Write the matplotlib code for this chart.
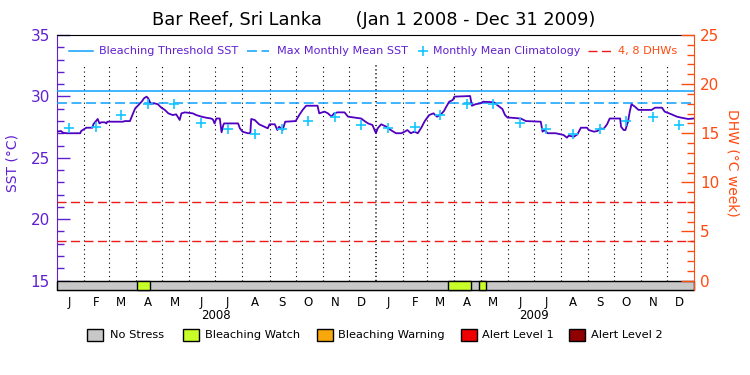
import matplotlib
matplotlib.use("Agg")
import matplotlib.pyplot as plt
import matplotlib.dates as mdates
import numpy as np
from matplotlib.patches import Rectangle
from matplotlib.transforms import blended_transform_factory

# ---------------- data ----------------
sst_dates = [
    "2008-01-01", "2008-01-06", "2008-01-08", "2008-01-12", "2008-01-28", "2008-01-29",
    "2008-02-04", "2008-02-11", "2008-02-12", "2008-02-15", "2008-02-17", "2008-02-19",
    "2008-02-21", "2008-02-25", "2008-02-27", "2008-02-28", "2008-03-17", "2008-03-19",
    "2008-03-25", "2008-03-27", "2008-03-31", "2008-04-03", "2008-04-08", "2008-04-10",
    "2008-04-13", "2008-04-15", "2008-04-18", "2008-04-22", "2008-04-26", "2008-04-30",
    "2008-05-04", "2008-05-08", "2008-05-13", "2008-05-17", "2008-05-21", "2008-05-23",
    "2008-05-27", "2008-06-05", "2008-06-09", "2008-06-15", "2008-06-20", "2008-06-26",
    "2008-06-28", "2008-06-30", "2008-07-02", "2008-07-06", "2008-07-08", "2008-07-10",
    "2008-07-11", "2008-07-27", "2008-07-29", "2008-08-01", "2008-08-07", "2008-08-10",
    "2008-08-11", "2008-08-15", "2008-08-20", "2008-08-26", "2008-08-30", "2008-09-01",
    "2008-09-07", "2008-09-10", "2008-09-12", "2008-09-16", "2008-09-19", "2008-10-01",
    "2008-10-05", "2008-10-09", "2008-10-13", "2008-10-26", "2008-10-28", "2008-11-03",
    "2008-11-07", "2008-11-11", "2008-11-14", "2008-11-18", "2008-11-26", "2008-11-30",
    "2008-12-15", "2008-12-19", "2008-12-23", "2008-12-28", "2009-01-01", "2009-01-03",
    "2009-01-07", "2009-01-13", "2009-01-18", "2009-01-24", "2009-01-30", "2009-02-03",
    "2009-02-06", "2009-02-10", "2009-02-14", "2009-02-18", "2009-02-22", "2009-02-26",
    "2009-03-03", "2009-03-08", "2009-03-12", "2009-03-16", "2009-03-20", "2009-03-22",
    "2009-03-26", "2009-03-30", "2009-04-01", "2009-04-19", "2009-04-21", "2009-04-25",
    "2009-05-01", "2009-05-04", "2009-05-16", "2009-05-20", "2009-05-26", "2009-05-29",
    "2009-06-01", "2009-06-04", "2009-06-16", "2009-06-22", "2009-07-09", "2009-07-11",
    "2009-07-13", "2009-07-17", "2009-07-26", "2009-08-01", "2009-08-04", "2009-08-08",
    "2009-08-10", "2009-08-16", "2009-08-20", "2009-08-24", "2009-08-31", "2009-09-02",
    "2009-09-08", "2009-09-12", "2009-09-15", "2009-09-19", "2009-09-23", "2009-09-26",
    "2009-10-08", "2009-10-09", "2009-10-12", "2009-10-14", "2009-10-17", "2009-10-19",
    "2009-10-21", "2009-10-25", "2009-10-29", "2009-11-13", "2009-11-17", "2009-11-25",
    "2009-11-28", "2009-12-06", "2009-12-12", "2009-12-17", "2009-12-25", "2009-12-31",
]
sst_values = [
    27.13, 27.18, 27.05, 27.00, 27.00, 27.18,
    27.45, 27.45, 27.73, 27.99, 28.16, 27.80,
    27.89, 27.89, 27.80, 27.94, 27.94, 27.99,
    27.99, 28.35, 29.03, 29.24, 29.62, 29.84,
    29.98, 29.84, 29.36, 29.44, 29.36, 29.08,
    28.90, 28.62, 28.48, 28.54, 28.08, 28.62,
    28.70, 28.62, 28.48, 28.35, 28.27, 28.20,
    28.13, 27.80, 28.20, 28.20, 27.08, 27.67,
    27.80, 27.80, 27.40, 27.13, 27.00, 27.00,
    28.16, 28.08, 27.73, 27.53, 27.40, 27.73,
    27.73, 27.26, 27.53, 27.26, 27.94, 27.99,
    28.48, 28.90, 29.24, 29.24, 28.62, 28.76,
    28.62, 28.35, 28.62, 28.70, 28.70, 28.35,
    28.20, 27.99, 27.80, 27.67, 27.00, 27.40,
    27.73, 27.53, 27.26, 27.00, 27.00, 27.13,
    27.26, 27.00, 27.13, 27.00, 27.45, 27.99,
    28.48, 28.62, 28.35, 28.50, 28.81, 29.08,
    29.57, 29.70, 29.98, 30.03, 29.24, 29.36,
    29.44, 29.57, 29.52, 29.30, 28.97, 28.48,
    28.27, 28.27, 28.20, 27.99, 27.94, 27.13,
    27.26, 27.00, 27.00, 26.91, 26.86, 26.64,
    26.80, 26.72, 26.91, 27.45, 27.45, 27.26,
    27.13, 27.18, 27.40, 27.35, 27.73, 28.20,
    28.20, 27.53, 27.26, 27.26, 27.94, 28.76,
    29.36, 29.16, 28.90, 28.90, 29.08, 29.08,
    28.76, 28.54, 28.35, 28.27, 28.16, 28.20,
]

month_letters = ["J", "F", "M", "A", "M", "J", "J", "A", "S", "O", "N", "D"]
years = ["2008", "2009"]
clim_values = [27.45, 27.47, 28.45, 29.42, 29.42, 27.86,
               27.32, 26.90, 27.35, 28.02, 28.30, 27.67]
mmm_value = 29.45
threshold_value = 30.47
dhw_levels = [4, 8]

stress_starts = ["2008-04-02", "2009-03-25", "2009-04-29"]
stress_ends = ["2008-04-17", "2009-04-20", "2009-05-07"]
stress_levels = [1, 1, 1]   # 0 no stress, 1 watch, 2 warning, 3 alert1, 4 alert2

legend_labels = ["No Stress", "Bleaching Watch", "Bleaching Warning",
                 "Alert Level 1", "Alert Level 2"]
legend_colors = ["#c8c8c8", "#c8ff28", "#f8a80c", "#ee0000", "#900000"]

# ---------------- styles ----------------
PURPLE = "#6020d0"
LINEPURPLE = "#5000c0"
ORANGE = "#ff4a10"
BLUE = "#0aa0ff"
CYAN = "#10c8ff"
RED = "#ee1a1a"

plt.rcParams["font.family"] = ["DejaVu Sans"]

W, H = 750, 375
fig = plt.figure(figsize=(7.5, 3.75), dpi=100)
ax_l, ax_r, ax_t, ax_b = 56.7, 694.3, 35.0, 290.0
ax = fig.add_axes([ax_l / W, 1 - ax_b / H, (ax_r - ax_l) / W, (ax_b - ax_t) / H])

x0 = np.datetime64("2008-01-01")
x1 = np.datetime64("2010-01-01")
y_bot = 15 - (ax_b - 280.6) / 12.28
ax.set_xlim(x0, x1)
ax.set_ylim(y_bot, 35)

xd = np.array(sst_dates, dtype="datetime64[D]")
ax.plot(xd, sst_values, color=LINEPURPLE, lw=1.3, zorder=5)

month_starts = np.arange("2008-01", "2010-01", dtype="datetime64[M]").astype("datetime64[D]")
mid_months = month_starts + np.timedelta64(14, "D")
ax.plot(mid_months, clim_values * len(years), linestyle="none", marker="+",
        color=CYAN, markersize=6.5, mew=1.2, zorder=6)

ax.axhline(threshold_value, color=BLUE, lw=1.1, zorder=4)
ax.axhline(mmm_value, color=BLUE, lw=1.1, dashes=(6.5, 3), zorder=4)

# vertical dotted month lines
for i, ms in enumerate(month_starts[1:]):
    lw = 1.1 if str(ms).endswith("01-01") else 0.8
    ax.plot([ms, ms], [15, 32.56], color="black", lw=lw,
            dashes=(1.0, 3.0) if lw < 1 else (0.8, 1.8), zorder=2)

# stress bar
xs0 = mdates.date2num(x0)
xs1 = mdates.date2num(x1)
ax.add_patch(Rectangle((xs0, y_bot), xs1 - xs0, 15 - y_bot, facecolor=legend_colors[0],
                       edgecolor="black", lw=1.0, zorder=7, clip_on=False))
for s, e, lv in zip(stress_starts, stress_ends, stress_levels):
    a = mdates.date2num(np.datetime64(s))
    b = mdates.date2num(np.datetime64(e))
    ax.add_patch(Rectangle((a, y_bot), b - a, 15 - y_bot, facecolor=legend_colors[lv],
                           edgecolor="black", lw=1.0, zorder=8, clip_on=False))

# axes styling
for side in ["top", "bottom"]:
    ax.spines[side].set_color("black")
ax.spines["left"].set_color(PURPLE)
ax.spines["right"].set_visible(False)
ax.set_yticks([15, 20, 25, 30, 35])
ax.set_yticks(np.arange(16, 35, 1), minor=True)
ax.tick_params(axis="y", which="major", direction="in", length=9.5, width=1.0,
               color=PURPLE, labelcolor=PURPLE, labelsize=11, pad=5)
ax.tick_params(axis="y", which="minor", direction="in", length=5, width=1.0, color=PURPLE)
ax.set_ylabel("SST (°C)", color=PURPLE, fontsize=10, labelpad=8)
ax.yaxis.set_label_coords(-0.058, 0.5)

ax.set_xticks(mid_months)
ax.set_xticklabels(month_letters * len(years))
ax.tick_params(axis="x", length=0, labelsize=8.5, pad=4)

trans = blended_transform_factory(ax.transData, ax.transAxes)
for j, yr in enumerate(years):
    mid = np.datetime64(f"{yr}-07-01")
    ax.text(mid, -(315.7 - ax_b) / (ax_b - ax_t), yr, transform=trans, ha="center",
            va="center", fontsize=8.5)

# right axis
ax2 = ax.twinx()
ax2.set_ylim((y_bot - 15) * 1.25, 25)
for lv in dhw_levels:
    ax2.axhline(lv, color=RED, lw=1.0, dashes=(6.5, 3.2), zorder=3)
for side in ["top", "bottom", "left"]:
    ax2.spines[side].set_visible(False)
ax2.spines["right"].set_color(ORANGE)
ax2.set_yticks([0, 5, 10, 15, 20, 25])
ax2.set_yticks(np.arange(1, 25, 1), minor=True)
ax2.tick_params(axis="y", which="major", direction="in", length=9.5, width=1.0,
                color=ORANGE, labelcolor=ORANGE, labelsize=11, pad=4)
ax2.tick_params(axis="y", which="minor", direction="in", length=5, width=1.0, color=ORANGE)
ax2.set_ylabel("DHW (°C week)", color=ORANGE, fontsize=10, rotation=270, va="center")
ax2.yaxis.set_label_coords(1.06, 0.5)

# top legend (inside axes)
def fx(px):
    return (px - ax_l) / (ax_r - ax_l)

ly = (ax_b - 51) / (ax_b - ax_t)
fs_leg = 8.1
ax.plot([fx(69), fx(93)], [ly, ly], transform=ax.transAxes, color=BLUE, lw=1.1, zorder=9)
ax.text(fx(99), ly, "Bleaching Threshold SST", transform=ax.transAxes, color=PURPLE,
        fontsize=fs_leg, va="center", ha="left")
ax.plot([fx(247), fx(269)], [ly, ly], transform=ax.transAxes, color=BLUE, lw=1.1,
        dashes=(6.5, 3), zorder=9)
ax.text(fx(277), ly, "Max Monthly Mean SST", transform=ax.transAxes, color=PURPLE,
        fontsize=fs_leg, va="center", ha="left")
ax.plot([fx(423)], [ly], transform=ax.transAxes, marker="+", color=CYAN,
        markersize=6.5, mew=1.2, zorder=9)
ax.text(fx(433), ly, "Monthly Mean Climatology", transform=ax.transAxes, color=PURPLE,
        fontsize=7.9, va="center", ha="left")
ax2.plot([fx(588), fx(612)], [ly, ly], transform=ax2.transAxes, color=RED, lw=1.0,
         dashes=(6.5, 3.2), zorder=9)
ax2.text(fx(618), ly, "4, 8 DHWs", transform=ax2.transAxes, color=ORANGE,
         fontsize=fs_leg, va="center", ha="left")

# title
fig.text(374 / W, 1 - 20 / H, "Bar Reef, Sri Lanka      (Jan 1 2008 - Dec 31 2009)",
         ha="center", va="center", fontsize=12.8)

# bottom legend
box_x = [87.3, 183.3, 317.3, 461.0, 569.3]
text_x = [110.0, 205.0, 338.3, 482.3, 590.7]
for bx, tx, lab, col in zip(box_x, text_x, legend_labels, legend_colors):
    fig.patches.append(Rectangle((bx / W, 1 - 340.7 / H), 16 / W, 11.4 / H,
                                 transform=fig.transFigure, facecolor=col,
                                 edgecolor="black", lw=1.0))
    fig.text(tx / W, 1 - 335.5 / H, lab, ha="left", va="center", fontsize=8.2)

fig.savefig("out.png", dpi=100)
